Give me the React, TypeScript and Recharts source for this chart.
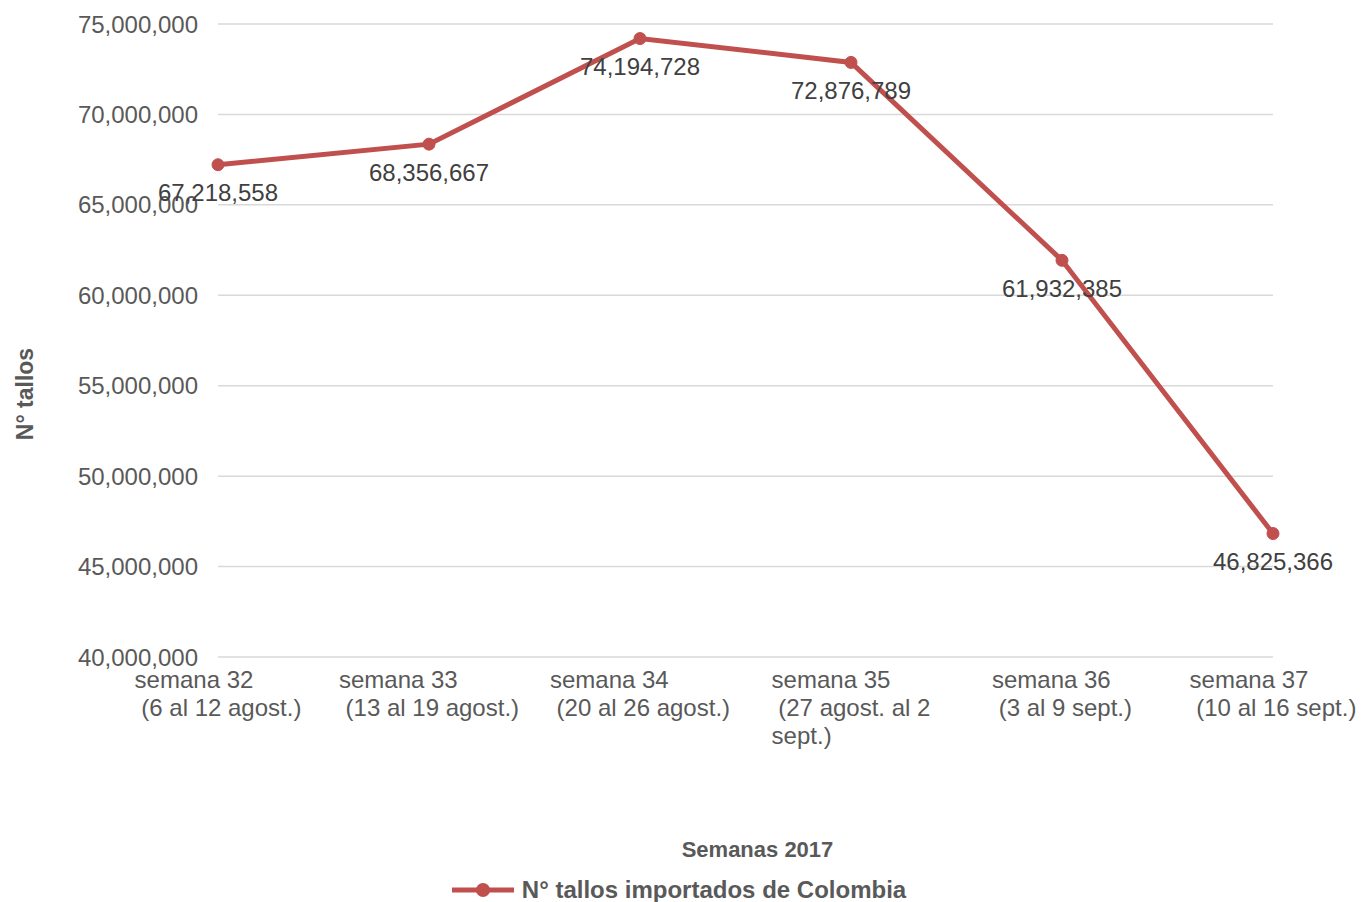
import React from 'react';
import { LineChart, Line, XAxis, YAxis, CartesianGrid, Legend, LabelList, Label } from 'recharts';

const weeks = ['semana 32', 'semana 33', 'semana 34', 'semana 35', 'semana 36', 'semana 37'];
const weekLines = [
  ['semana 32', ' (6 al 12 agost.)'],
  ['semana 33', ' (13 al 19 agost.)'],
  ['semana 34', ' (20 al 26 agost.)'],
  ['semana 35', ' (27 agost. al 2', 'sept.)'],
  ['semana 36', ' (3 al 9 sept.)'],
  ['semana 37', ' (10 al 16 sept.)'],
];
const stems = [67218558, 68356667, 74194728, 72876789, 61932385, 46825366];
const yTicks = [40000000, 45000000, 50000000, 55000000, 60000000, 65000000, 70000000, 75000000];

const seriesName = 'N° tallos importados de Colombia';
const FONT = '"Liberation Sans", Arial, sans-serif';
const GRAY = '#595959';
const RED = '#C0504D';

const data = weeks.map((w, i) => ({ week: w, value: stems[i] }));

let ctx: CanvasRenderingContext2D | null = null;
const measure = (s: string) => {
  if (!ctx) {
    ctx = document.createElement('canvas').getContext('2d');
  }
  if (!ctx) return s.length * 12;
  ctx.font = `24px ${FONT}`;
  return ctx.measureText(s).width;
};

// Excel-style wrapped tick: lines left aligned inside a centred box
const WeekTick = (props: any) => {
  const { x, y, index } = props;
  const lines = weekLines[index] || [];
  const w = Math.max(...lines.map(measure));
  const left = x - w / 2;
  return (
    <text x={left} y={y} fill={GRAY} fontSize={24} fontFamily={FONT} style={{ whiteSpace: 'pre' }}>
      {lines.map((l, i) => (
        <tspan key={i} x={left} y={y + 22 + i * 28} dominantBaseline="central">
          {l}
        </tspan>
      ))}
    </text>
  );
};

const ValueLabel = (props: any) => {
  const { x, y, value } = props;
  return (
    <text
      x={x}
      y={y + 28}
      textAnchor="middle"
      dominantBaseline="central"
      fill="#404040"
      fontSize={24}
      fontFamily={FONT}
    >
      {Number(value).toLocaleString('en-US')}
    </text>
  );
};

const YTitle = () => (
  <text
    x={25}
    y={394}
    transform="rotate(-90 25 394)"
    textAnchor="middle"
    dominantBaseline="central"
    fill={GRAY}
    fontSize={23}
    fontWeight="bold"
    fontFamily={FONT}
  >
    N° tallos
  </text>
);

const LegendContent = () => (
  <div
    style={{
      display: 'flex',
      justifyContent: 'center',
      alignItems: 'center',
      height: 28,
      fontFamily: FONT,
      fontSize: 24,
      fontWeight: 'bold',
      color: GRAY,
    }}
  >
    <svg width={62} height={20} style={{ marginRight: 8 }}>
      <line x1={0} y1={10} x2={62} y2={10} stroke={RED} strokeWidth={5} />
      <circle cx={31} cy={10} r={7} fill={RED} />
    </svg>
    <span>{seriesName}</span>
  </div>
);

export default function App() {
  return (
    <div style={{ position: 'absolute', left: 0, top: 0, background: '#fff' }}>
      <LineChart width={1364} height={902} data={data} margin={{ top: 24, right: 91, left: 0, bottom: 0 }}>
        <CartesianGrid horizontal vertical={false} stroke="#d9d9d9" strokeWidth={1.5} />
        <XAxis
          dataKey="week"
          axisLine={false}
          tickLine={false}
          tickSize={0}
          tickMargin={0}
          height={217}
          interval={0}
          tick={<WeekTick />}
        >
          <Label
            value="Semanas 2017"
            position="insideBottom"
            offset={0}
            dx={12}
            dy={-17}
            fill={GRAY}
            fontSize={22}
            fontWeight="bold"
            fontFamily={FONT}
          />
        </XAxis>
        <YAxis
          domain={[40000000, 75000000]}
          ticks={yTicks}
          width={218}
          axisLine={false}
          tickLine={false}
          tickMargin={14}
          tick={{ fill: GRAY, fontSize: 24, fontFamily: FONT }}
          tickFormatter={(v: number) => v.toLocaleString('en-US')}
        >
          <Label content={<YTitle />} />
        </YAxis>
        <Legend
          content={<LegendContent />}
          wrapperStyle={{ position: 'absolute', left: 0, top: 876, width: 1358 }}
        />
        <Line
          type="linear"
          dataKey="value"
          name={seriesName}
          stroke={RED}
          strokeWidth={5}
          dot={{ r: 6, fill: RED, stroke: RED, strokeWidth: 1 }}
          activeDot={false}
          isAnimationActive={false}
        >
          <LabelList dataKey="value" content={<ValueLabel />} />
        </Line>
      </LineChart>
    </div>
  );
}
